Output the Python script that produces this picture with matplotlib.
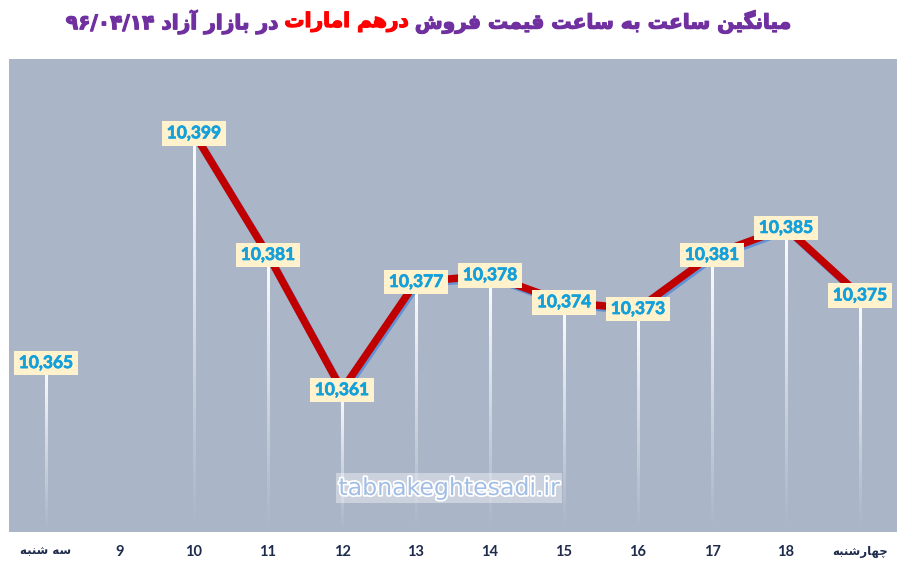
import matplotlib
matplotlib.use("Agg")
import matplotlib.pyplot as plt
import numpy as np
import matplotlib.patheffects as pe

# ---------------- data ----------------
categories = ["سه شنبه", "9", "10", "11", "12", "13", "14", "15", "16", "17", "18", "چهارشنبه"]
prices = [10365, np.nan, 10399, 10381, 10361, 10377, 10378, 10374, 10373, 10381, 10385, 10375]
line_start = 2  # the red line connects hours 10 .. چهارشنبه
title_parts = ["میانگین ساعت به ساعت قیمت فروش", "درهم امارات", "در بازار آزاد ۹۶/۰۴/۱۴"]
watermark = "tabnakeghtesadi.ir"

# ---------------- minimal Persian shaping (matplotlib has no RTL shaping) ----------------
FORMS = {
    '\u0627': ('\uFE8D', '\uFE8E', None, None),      # alef
    '\u0622': ('\uFE81', '\uFE82', None, None),      # alef madda
    '\u062F': ('\uFEA9', '\uFEAA', None, None),      # dal
    '\u0631': ('\uFEAD', '\uFEAE', None, None),      # reh
    '\u0632': ('\uFEAF', '\uFEB0', None, None),      # zain
    '\u0648': ('\uFEED', '\uFEEE', None, None),      # waw
    '\u0628': ('\uFE8F', '\uFE90', '\uFE91', '\uFE92'),
    '\u062A': ('\uFE95', '\uFE96', '\uFE97', '\uFE98'),
    '\u0633': ('\uFEB1', '\uFEB2', '\uFEB3', '\uFEB4'),
    '\u0634': ('\uFEB5', '\uFEB6', '\uFEB7', '\uFEB8'),
    '\u0639': ('\uFEC9', '\uFECA', '\uFECB', '\uFECC'),
    '\u0641': ('\uFED1', '\uFED2', '\uFED3', '\uFED4'),
    '\u0642': ('\uFED5', '\uFED6', '\uFED7', '\uFED8'),
    '\u0645': ('\uFEE1', '\uFEE2', '\uFEE3', '\uFEE4'),
    '\u0646': ('\uFEE5', '\uFEE6', '\uFEE7', '\uFEE8'),
    '\u0647': ('\uFEE9', '\uFEEA', '\uFEEB', '\uFEEC'),
    '\u06CC': ('\uFBFC', '\uFBFD', '\uFBFE', '\uFBFF'),
    '\u06AF': ('\uFB92', '\uFB93', '\uFB94', '\uFB95'),
    '\u0686': ('\uFB7A', '\uFB7B', '\uFB7C', '\uFB7D'),
}


def shape_word(w):
    out = []
    for i, c in enumerate(w):
        if c not in FORMS:
            out.append(c)
            continue
        prev = w[i - 1] if i > 0 else None
        nxt = w[i + 1] if i + 1 < len(w) else None
        jp = prev in FORMS and FORMS[prev][2] is not None
        jn = nxt in FORMS and FORMS[c][2] is not None
        iso, fin, ini, med = FORMS[c]
        if jp and jn:
            out.append(med)
        elif jp:
            out.append(fin)
        elif jn:
            out.append(ini)
        else:
            out.append(iso)
    return ''.join(reversed(out))


def rtl(s):
    words = s.split(' ')
    res = []
    for w in reversed(words):
        if any(c in FORMS for c in w):
            res.append(shape_word(w))
        else:
            res.append(w)
    return ' '.join(res)


# ---------------- figure ----------------
W, H = 905, 567
fig = plt.figure(figsize=(W / 100, H / 100), dpi=100)
fig.patch.set_facecolor("white")
ax = fig.add_axes([9 / W, (H - 532) / H, 888 / W, (532 - 59) / H])
ax.set_facecolor("#ABB5C8")
for s in ax.spines.values():
    s.set_visible(False)

x = np.arange(len(categories))
y = np.array(prices, dtype=float)
ymin, ymax = 10340, 10410

# gradient drop lines (white fading to transparent)
grad = np.zeros((200, 1, 4))
grad[..., :3] = 1.0
grad[:, 0, 3] = np.linspace(1.0, 0.0, 200) ** 1.1
half_w = 0.5 * 3.0 / 74.0
for xi, yi in zip(x, y):
    if np.isnan(yi):
        continue
    ax.imshow(grad, extent=[xi - half_w, xi + half_w, ymin, yi], origin="upper",
              aspect="auto", interpolation="bilinear", zorder=2)

# red line with blue shadow
ax.plot(x[line_start:], y[line_start:], color="#C00000", lw=5.4, zorder=3,
        solid_joinstyle='miter', solid_capstyle='butt',
        path_effects=[pe.SimpleLineShadow(offset=(1.2, -1.6), shadow_color="#5B8ED6", alpha=0.9, rho=1.0),
                      pe.Normal()])

# data labels centred on points
for xi, yi in zip(x, y):
    if np.isnan(yi):
        continue
    ax.text(xi, yi, f"{int(yi):,}", ha="center", va="center", fontsize=12.5,
            fontweight="bold", family=["Lato", "DejaVu Sans"], color="#14A0DA", zorder=5,
            path_effects=[pe.withStroke(linewidth=0.5, foreground="#14A0DA")],
            bbox=dict(boxstyle="square,pad=0.25", fc="#FFF2CC", ec="none"))

ax.set_xlim(-0.5, len(categories) - 0.5)
ax.set_ylim(ymin, ymax)
ax.set_yticks([])

# x tick labels
ax.set_xticks(x)
ax.set_xticklabels([rtl(c) for c in categories])
ax.tick_params(axis="x", length=0, pad=9)
for lab, c in zip(ax.get_xticklabels(), categories):
    lab.set_color("#1F2B4D")
    lab.set_fontweight("bold")
    if c.isdigit():
        lab.set_family(["Lato", "DejaVu Sans"])
        lab.set_fontsize(10.5)
    else:
        lab.set_family(["DejaVu Sans"])
        lab.set_fontsize(8.5)

# watermark
ax.text(0.4955, 0.093, watermark, transform=ax.transAxes, ha="center", va="center",
        fontsize=17, family=["DejaVu Sans"], color="#A3BEE4", zorder=4,
        path_effects=[pe.withStroke(linewidth=2.5, foreground="white")],
        bbox=dict(boxstyle="square,pad=0.12", fc="white", ec="none", alpha=0.4))

# title (three coloured runs, laid out left to right in visual order)
renderer = fig.canvas.get_renderer()
visual = [(rtl(title_parts[2]), "#7030A0"), (rtl(title_parts[1]), "#FF0000"), (rtl(title_parts[0]), "#7030A0")]
gap_ratio = 0.28


def measure(fs):
    tmp = [fig.text(0, 0, s, fontsize=fs, fontweight="bold", family=["DejaVu Sans"]) for s, _ in visual]
    wid = [t.get_window_extent(renderer).width for t in tmp]
    for t in tmp:
        t.remove()
    return wid


fs = 14
wid = measure(fs)
total = sum(wid) + 2 * gap_ratio * fs * 100 / 72
fs = fs * 728 / total
wid = measure(fs)
gap = gap_ratio * fs * 100 / 72
total = sum(wid) + 2 * gap
xpos = 429 - total / 2
for (s, col), w in zip(visual, wid):
    fig.text(xpos / W, 1 - 22 / H, s, fontsize=fs, fontweight="bold", family=["DejaVu Sans"],
             color=col, ha="left", va="center",
             path_effects=[pe.withStroke(linewidth=0.9, foreground=col)])
    xpos += w + gap

fig.savefig("out.png", dpi=100, facecolor="white")
